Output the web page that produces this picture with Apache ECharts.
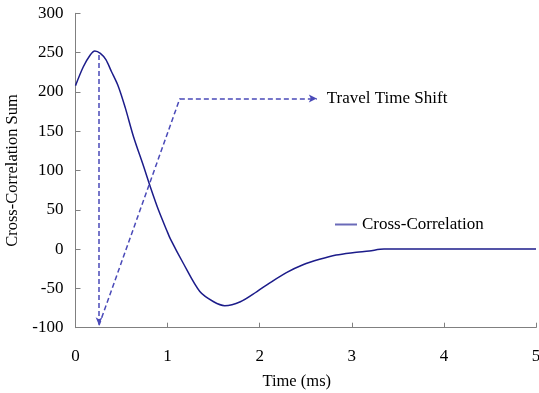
<!DOCTYPE html>
<html>
<head>
<meta charset="utf-8">
<script src="https://cdn.jsdelivr.net/npm/echarts@6/dist/echarts.min.js"></script>
<style>html,body{margin:0;padding:0;background:#fff}#c{width:539px;height:393px}</style>
</head>
<body>
<div id="c"></div>
<script>
// Cross-correlation curve (time in ms, value)
var corrTime = [0, 0.085, 0.16, 0.21, 0.27, 0.33, 0.39, 0.465, 0.54, 0.63, 0.74, 0.81, 0.9, 0.99, 1.03, 1.17, 1.35, 1.5, 1.62, 1.79, 1.97, 2.11, 2.29, 2.47, 2.65, 2.83, 3.01, 3.19, 3.35, 3.5, 4, 4.5, 5];
var corrValue = [208, 232, 247, 252, 249, 241, 226, 207, 180, 143, 105, 80, 50, 24, 13, -18, -54, -67, -72, -67, -54, -43, -30, -20, -13, -7.5, -4.5, -2.3, 0, 0, 0, 0, 0];

// Travel time shift arrow path
var shiftX = [0.255, 0.255, 1.133, 2.62];
var shiftY = [247, -97, 191.5, 191.5];

var xTicks = [0, 1, 2, 3, 4, 5];
var yTicks = [-100, -50, 0, 50, 100, 150, 200, 250, 300];

var font = 'Liberation Serif, Times New Roman, serif';
var corrData = corrTime.map(function (t, i) { return [t, corrValue[i]]; });

var segs = [
  [{coord: [shiftX[0], shiftY[0]], symbol: 'none'}, {coord: [shiftX[1], shiftY[1]], symbol: 'arrow', symbolSize: [5, 8]}],
  [{coord: [shiftX[1], shiftY[1]], symbol: 'none'}, {coord: [shiftX[2], shiftY[2]], symbol: 'none'}],
  [{coord: [shiftX[2], shiftY[2]], symbol: 'none'}, {coord: [shiftX[3], shiftY[3]], symbol: 'arrow',
    label: {show: true, position: 'end', formatter: 'Travel Time Shift', distance: 10,
      color: '#000', fontFamily: font, fontSize: 17}}]
];

var chart = echarts.init(document.getElementById('c'), null, {renderer: 'canvas'});
chart.setOption({
  animation: false,
  backgroundColor: '#fff',
  grid: {left: 75.5, right: 3, top: 13.3, bottom: 65.3, containLabel: false, outerBoundsMode: 'none'},
  legend: {
    data: [{name: 'Cross-Correlation', icon: 'rect', itemStyle: {color: '#6a6ab8'}}],
    left: 330, top: 211, itemWidth: 22, itemHeight: 2,
    textStyle: {fontFamily: font, fontSize: 17, color: '#000'}
  },
  xAxis: {
    type: 'value', min: xTicks[0], max: xTicks[xTicks.length - 1], interval: 1,
    name: 'Time (ms)', nameLocation: 'middle', nameGap: 45,
    nameTextStyle: {fontFamily: font, fontSize: 16.5, color: '#000', padding: [0, 18, 0, 0]},
    axisLine: {onZero: false, lineStyle: {color: '#808080', width: 1}},
    axisTick: {inside: true, length: 5, lineStyle: {color: '#808080'}},
    axisLabel: {fontFamily: font, fontSize: 17, color: '#000', margin: 20},
    splitLine: {show: false}
  },
  yAxis: {
    type: 'value', min: yTicks[0], max: yTicks[yTicks.length - 1], interval: 50,
    name: 'Cross-Correlation Sum', nameLocation: 'middle', nameGap: 48,
    nameTextStyle: {fontFamily: font, fontSize: 16.5, color: '#000'},
    axisLine: {show: true, lineStyle: {color: '#808080', width: 1}},
    axisTick: {show: true, inside: true, length: 5, lineStyle: {color: '#808080'}},
    axisLabel: {fontFamily: font, fontSize: 17, color: '#000', margin: 12},
    splitLine: {show: false}
  },
  series: [
    {
      name: 'Cross-Correlation', type: 'line', data: corrData, smooth: 0.3,
      showSymbol: false, symbol: 'none',
      lineStyle: {color: '#1c1c8a', width: 1.5},
      itemStyle: {color: '#1c1c8a'}
    },
    {
      name: 'Travel Time Shift', type: 'line', data: [], silent: true,
      markLine: {
        silent: true, animation: false,
        symbolSize: [6, 8],
        lineStyle: {color: '#4a4ab8', width: 1.5, type: [5, 3]},
        itemStyle: {color: '#2a2a9a'},
        label: {show: false},
        emphasis: {disabled: true},
        data: segs
      }
    }
  ]
});
</script>
</body>
</html>
